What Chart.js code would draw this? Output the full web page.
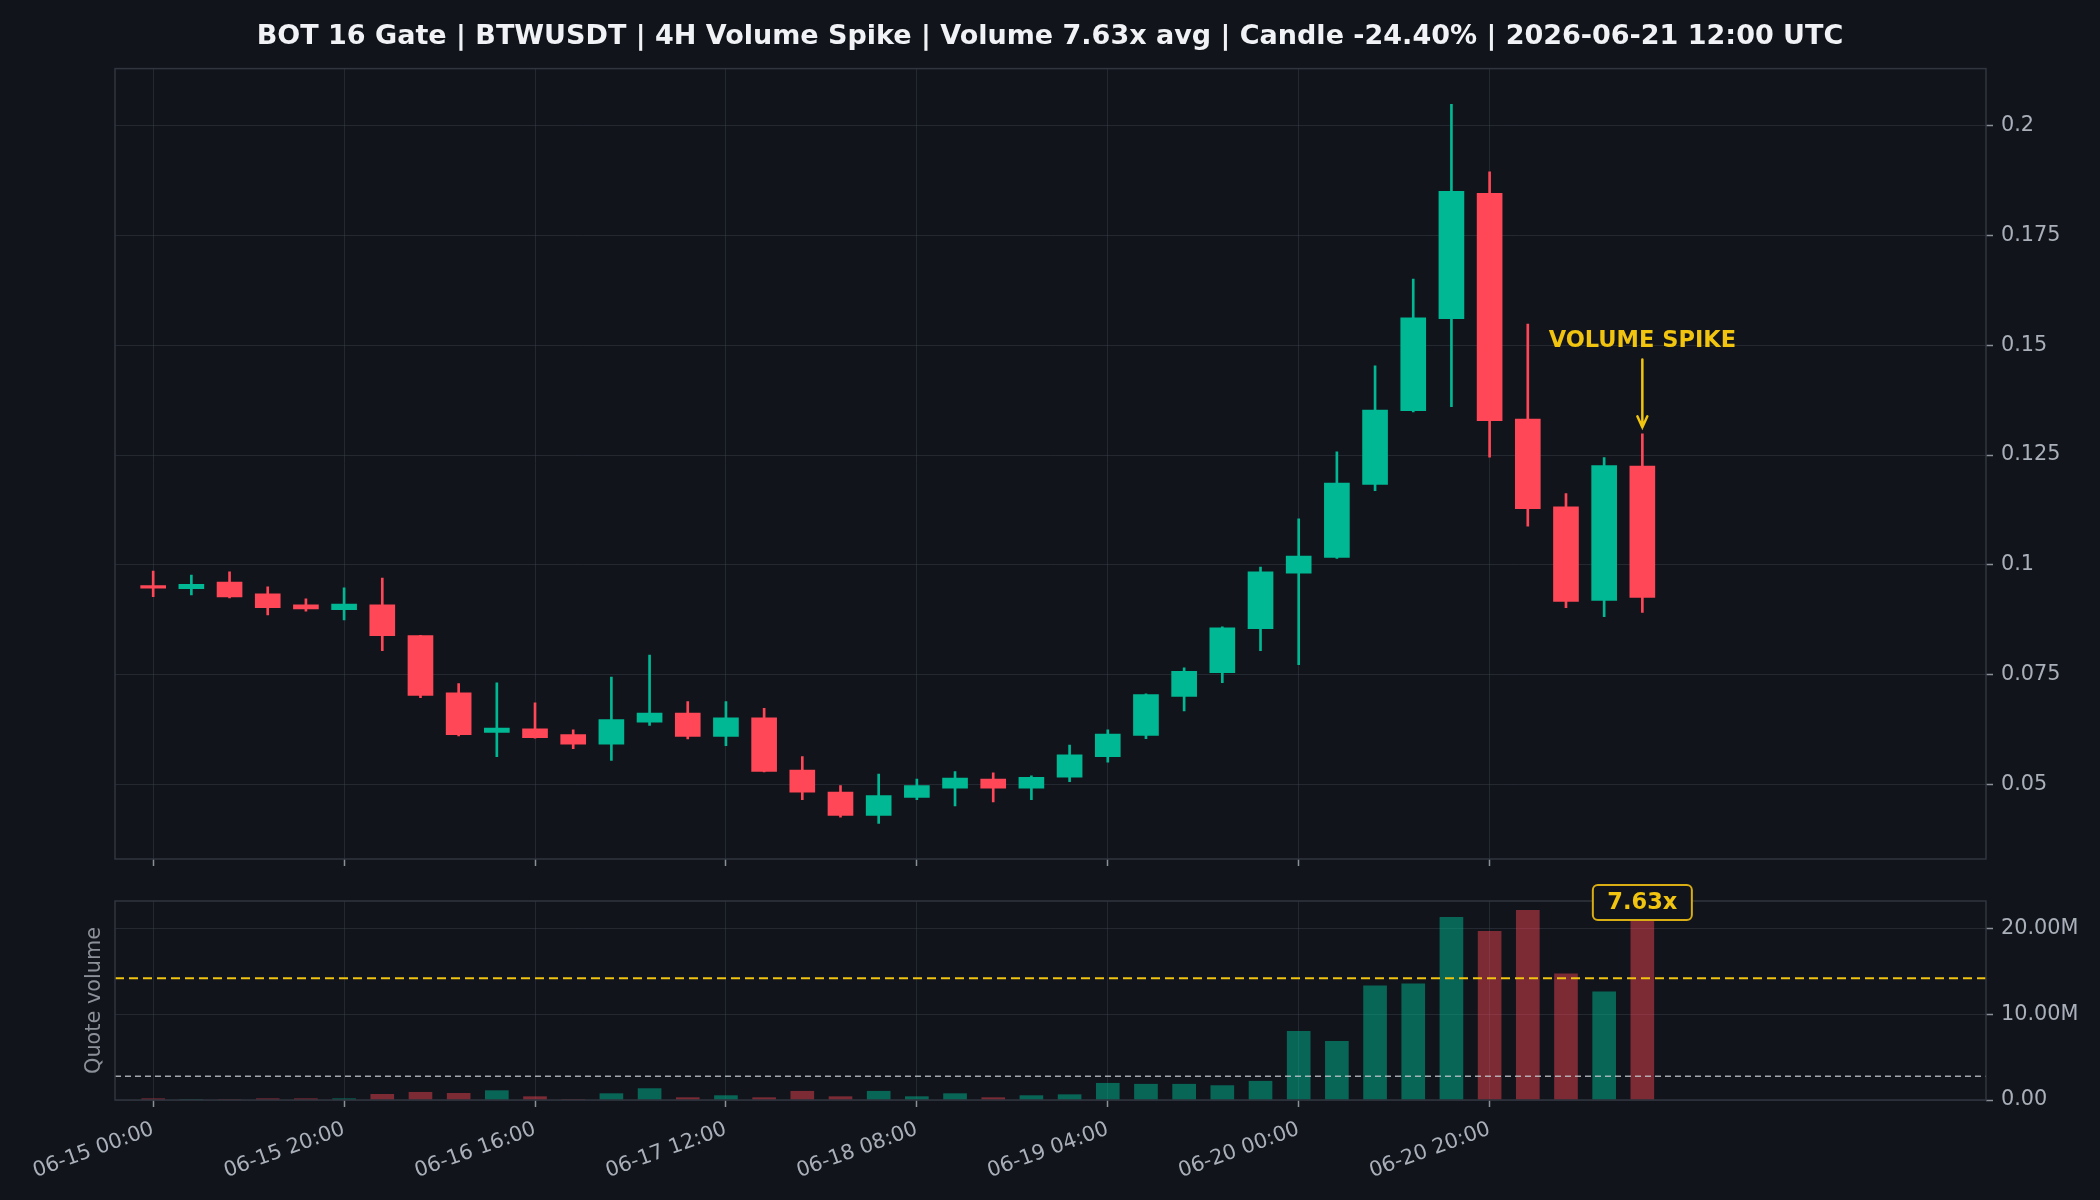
<!DOCTYPE html>
<html lang="en">
<head>
<meta charset="utf-8">
<title>BTWUSDT 4H Volume Spike</title>
<script src="https://cdn.jsdelivr.net/npm/chart.js@4.4.1/dist/chart.umd.min.js"></script>
<style>
  html, body { margin: 0; padding: 0; background: #11141b; }
  #wrap { position: relative; width: 2100px; height: 1200px; overflow: hidden; }
  #price-wrap { position: absolute; left: 0; top: 0; width: 2100px; height: 880px; }
  #volume-wrap { position: absolute; left: 0; top: 880px; width: 2100px; height: 320px; }
</style>
</head>
<body>
<div id="wrap">
  <div id="price-wrap"><canvas id="price-chart"></canvas></div>
  <div id="volume-wrap"><canvas id="volume-chart"></canvas></div>
</div>
<script>
// Datos de las velas 4H (06-15 00:00 -> 06-21 12:00)
const candleOpen = [
  0.0953, 0.0946, 0.0961, 0.0934, 0.0909, 0.0898, 0.0909, 0.0839, 0.0709, 0.0619,
  0.0627, 0.0614, 0.0592, 0.0642, 0.0663, 0.0610, 0.0652, 0.0533, 0.0483, 0.0430,
  0.0471, 0.0492, 0.0513, 0.0492, 0.0517, 0.0564, 0.0612, 0.0701, 0.0755, 0.0855,
  0.0981, 0.1017, 0.1183, 0.1351, 0.1560, 0.1845, 0.1332, 0.1132, 0.0919, 0.1225,
];
const candleHigh = [
  0.0986, 0.0977, 0.0984, 0.0950, 0.0923, 0.0948, 0.0970, 0.0840, 0.0730, 0.0732,
  0.0686, 0.0625, 0.0745, 0.0795, 0.0689, 0.0689, 0.0674, 0.0564, 0.0498, 0.0524,
  0.0513, 0.0530, 0.0527, 0.0520, 0.0590, 0.0625, 0.0707, 0.0766, 0.0859, 0.0995,
  0.1105, 0.1257, 0.1453, 0.1650, 0.2048, 0.1894, 0.1548, 0.1162, 0.1244, 0.1298,
];
const candleLow = [
  0.0928, 0.0932, 0.0925, 0.0886, 0.0895, 0.0875, 0.0805, 0.0698, 0.0611, 0.0564,
  0.0606, 0.0582, 0.0555, 0.0635, 0.0604, 0.0589, 0.0529, 0.0466, 0.0426, 0.0412,
  0.0466, 0.0452, 0.0461, 0.0466, 0.0507, 0.0551, 0.0605, 0.0668, 0.0732, 0.0805,
  0.0773, 0.1015, 0.1169, 0.1348, 0.1360, 0.1245, 0.1088, 0.0903, 0.0882, 0.0892,
];
const candleClose = [
  0.0947, 0.0956, 0.0927, 0.0903, 0.0900, 0.0911, 0.0839, 0.0703, 0.0614, 0.0629,
  0.0607, 0.0592, 0.0648, 0.0663, 0.0610, 0.0652, 0.0530, 0.0483, 0.0430, 0.0475,
  0.0498, 0.0515, 0.0492, 0.0517, 0.0568, 0.0615, 0.0705, 0.0758, 0.0857, 0.0984,
  0.1020, 0.1186, 0.1352, 0.1562, 0.1850, 0.1328, 0.1128, 0.0917, 0.1226, 0.0926,
];
// Volumen en USDT (millones)
const quoteVolumeM = [
  0.15, 0.05, 0.06, 0.15, 0.15, 0.15, 0.66, 0.90, 0.78, 1.09,
  0.39, 0.08, 0.74, 1.33, 0.27, 0.51, 0.27, 1.02, 0.39, 1.02,
  0.39, 0.74, 0.27, 0.51, 0.62, 1.95, 1.84, 1.84, 1.68, 2.19,
  8.02, 6.85, 13.30, 13.54, 21.29, 19.65, 22.11, 14.71, 12.60, 21.20,
];
const avgVolumeM = 2.78;
const spikeLineM = 14.2;

// Etiquetas de los ejes
const tickIndex = [0, 5, 10, 15, 20, 25, 30, 35];
const tickLabels = [
  "06-15 00:00", "06-15 20:00", "06-16 16:00", "06-17 12:00",
  "06-18 08:00", "06-19 04:00", "06-20 00:00", "06-20 20:00",
];
const priceTicks = [0.05, 0.075, 0.1, 0.125, 0.15, 0.175, 0.2];
const volumeTicks = [0, 10, 20];

const chartTitle =
  "BOT 16 Gate | BTWUSDT | 4H Volume Spike | Volume 7.63x avg | Candle -24.40% | 2026-06-21 12:00 UTC";
const spikeIndex = 39;
const spikeLabel = "7.63x";

// Estilo
const BG = "#11141b";
const GREEN = "#00b894";
const RED = "#ff4757";
const GOLD = "#f1c40f";
const FRAME = "#30353f";
const GRID = "rgba(60,66,78,0.45)";
const TICK_MARK = "#8a9099";
const TICK_TEXT = "#aab0b9";
const FONT = "'DejaVu Sans', sans-serif";
const tickFont = { family: FONT, size: 20.8 };

const X_MIN = -1;
const X_MAX = 48;

const candleColors = candleOpen.map((o, i) => (candleClose[i] >= o ? GREEN : RED));
const volumeColors = candleOpen.map((o, i) =>
  candleClose[i] >= o ? "rgba(0,184,148,0.5)" : "rgba(255,71,87,0.45)"
);

// Marco completo alrededor del area del grafico
const framePlugin = {
  id: "frame",
  afterDraw(chart) {
    const { ctx, chartArea: a } = chart;
    ctx.save();
    ctx.strokeStyle = FRAME;
    ctx.lineWidth = 1.5;
    ctx.strokeRect(a.left, a.top, a.right - a.left, a.bottom - a.top);
    ctx.restore();
  },
};

// Titulo centrado sobre toda la figura
const titlePlugin = {
  id: "figTitle",
  afterDraw(chart) {
    const { ctx } = chart;
    ctx.save();
    ctx.fillStyle = "#f0f2f5";
    ctx.font = "bold 27px " + FONT;
    ctx.textAlign = "center";
    ctx.textBaseline = "middle";
    ctx.fillText(chartTitle, chart.width / 2, 36.5);
    ctx.restore();
  },
};

// Anotacion "VOLUME SPIKE" con flecha
const spikePlugin = {
  id: "spike",
  afterDatasetsDraw(chart) {
    const { ctx, scales } = chart;
    const px = scales.x.getPixelForValue(spikeIndex);
    const textY = scales.y.getPixelForValue(0.1509);
    const arrowTop = scales.y.getPixelForValue(0.1467);
    const arrowTip = scales.y.getPixelForValue(0.1313);
    ctx.save();
    ctx.fillStyle = GOLD;
    ctx.font = "bold 22.5px " + FONT;
    ctx.textAlign = "center";
    ctx.textBaseline = "middle";
    ctx.fillText("VOLUME SPIKE", px, textY);
    ctx.strokeStyle = GOLD;
    ctx.lineWidth = 2.5;
    ctx.lineCap = "round";
    ctx.beginPath();
    ctx.moveTo(px, arrowTop);
    ctx.lineTo(px, arrowTip);
    ctx.moveTo(px - 5, arrowTip - 11);
    ctx.lineTo(px, arrowTip);
    ctx.lineTo(px + 5, arrowTip - 11);
    ctx.stroke();
    ctx.restore();
  },
};

// Lineas de referencia del volumen, etiqueta del eje y recuadro del multiplicador
const volumePlugin = {
  id: "volumeMarks",
  afterDatasetsDraw(chart) {
    const { ctx, chartArea: a, scales } = chart;
    ctx.save();
    ctx.setLineDash([9, 5]);
    ctx.strokeStyle = GOLD;
    ctx.lineWidth = 2;
    let yy = scales.y.getPixelForValue(spikeLineM);
    ctx.beginPath();
    ctx.moveTo(a.left, yy);
    ctx.lineTo(a.right, yy);
    ctx.stroke();
    ctx.setLineDash([6, 4]);
    ctx.strokeStyle = "rgba(200,204,210,0.8)";
    ctx.lineWidth = 1.5;
    yy = scales.y.getPixelForValue(avgVolumeM);
    ctx.beginPath();
    ctx.moveTo(a.left, yy);
    ctx.lineTo(a.right, yy);
    ctx.stroke();
    ctx.restore();
  },
  afterDraw(chart) {
    const { ctx, chartArea: a, scales } = chart;
    ctx.save();
    // titulo del eje y
    ctx.translate(95, (a.top + a.bottom) / 2);
    ctx.rotate(-Math.PI / 2);
    ctx.fillStyle = "#8b9099";
    ctx.font = "20.8px " + FONT;
    ctx.textAlign = "center";
    ctx.textBaseline = "middle";
    ctx.fillText("Quote volume", 0, 0);
    ctx.restore();

    const px = scales.x.getPixelForValue(spikeIndex);
    const w = 99;
    const h = 35;
    const top = a.top - 16;
    ctx.save();
    ctx.fillStyle = BG;
    ctx.strokeStyle = "#d9ad14";
    ctx.lineWidth = 2;
    ctx.beginPath();
    ctx.roundRect(px - w / 2, top, w, h, 5);
    ctx.fill();
    ctx.stroke();
    ctx.fillStyle = GOLD;
    ctx.font = "bold 22.5px " + FONT;
    ctx.textAlign = "center";
    ctx.textBaseline = "middle";
    ctx.fillText(spikeLabel, px, top + h / 2 + 1);
    ctx.restore();
  },
};

function xScale(showLabels) {
  return {
    type: "linear",
    min: X_MIN,
    max: X_MAX,
    offset: false,
    z: 1,
    afterBuildTicks: (s) => {
      s.ticks = tickIndex.map((v) => ({ value: v }));
    },
    afterFit: (s) => {
      s.height = showLabels ? 100 : 21;
    },
    border: { display: false },
    grid: { color: GRID, offset: false, tickColor: TICK_MARK, tickLength: 7, tickWidth: 1.5 },
    ticks: {
      display: showLabels,
      color: TICK_TEXT,
      font: tickFont,
      autoSkip: false,
      minRotation: 20,
      maxRotation: 20,
      padding: 10,
      callback: (v) => tickLabels[tickIndex.indexOf(v)],
    },
  };
}

function yScale(min, max, ticks, format) {
  return {
    type: "linear",
    position: "right",
    min: min,
    max: max,
    beginAtZero: false,
    z: 1,
    afterBuildTicks: (s) => {
      s.ticks = ticks.map((v) => ({ value: v }));
    },
    afterFit: (s) => {
      s.width = 114;
    },
    border: { display: false },
    grid: { color: GRID, tickColor: TICK_MARK, tickLength: 7, tickWidth: 1.5 },
    ticks: { color: TICK_TEXT, font: tickFont, padding: 8, callback: format },
  };
}

// Grafico de precio (velas)
new Chart(document.getElementById("price-chart"), {
  type: "bar",
  data: {
    datasets: [
      {
        label: "body",
        data: candleOpen.map((o, i) => ({ x: i, y: [o, candleClose[i]] })),
        backgroundColor: candleColors,
        barThickness: 25,
        minBarLength: 2,
        grouped: false,
      },
      {
        label: "wick",
        data: candleLow.map((l, i) => ({ x: i, y: [l, candleHigh[i]] })),
        backgroundColor: candleColors,
        barThickness: 2,
        grouped: false,
      },
    ],
  },
  options: {
    responsive: true,
    maintainAspectRatio: false,
    animation: false,
    layout: { padding: { left: 115, right: 0, top: 68.6, bottom: 0 } },
    plugins: {
      legend: { display: false },
      tooltip: { enabled: false },
      title: { display: false },
    },
    scales: {
      x: xScale(false),
      y: yScale(0.0331, 0.2129, priceTicks, (v) => String(Number(v.toFixed(3)))),
    },
  },
  plugins: [framePlugin, titlePlugin, spikePlugin],
});

// Grafico de volumen
new Chart(document.getElementById("volume-chart"), {
  type: "bar",
  data: {
    datasets: [
      {
        label: "Quote volume",
        data: quoteVolumeM.map((v, i) => ({ x: i, y: v })),
        backgroundColor: volumeColors,
        barThickness: 23,
        grouped: false,
      },
    ],
  },
  options: {
    responsive: true,
    maintainAspectRatio: false,
    animation: false,
    layout: { padding: { left: 115, right: 0, top: 21, bottom: 0 } },
    plugins: {
      legend: { display: false },
      tooltip: { enabled: false },
    },
    scales: {
      x: xScale(true),
      y: yScale(0, 23.2, volumeTicks, (v) => (v === 0 ? "0.00" : v.toFixed(2) + "M")),
    },
  },
  plugins: [framePlugin, volumePlugin],
});
</script>
</body>
</html>
